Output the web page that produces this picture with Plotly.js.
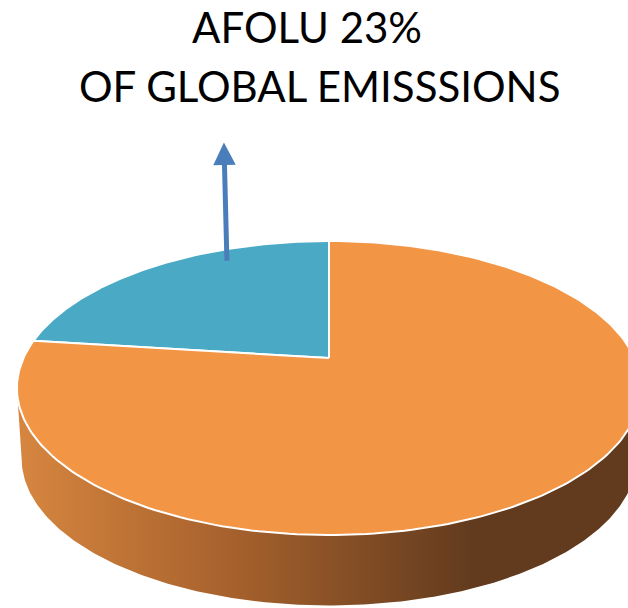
<!DOCTYPE html>
<html>
<head>
<meta charset="utf-8">
<script src="https://cdn.plot.ly/plotly-3.0.1.min.js"></script>
<style>
  html, body { margin: 0; padding: 0; background: #ffffff; }
  #chart { width: 628px; height: 608px; }
</style>
</head>
<body>
<div id="chart"></div>
<script>
// Share of global greenhouse-gas emissions
const categories = ['AFOLU', 'Other sectors'];
const shares = [23, 77];
const sliceColors = ['#4AA9C4', '#F29545'];
const titleLine2 = 'OF GLOBAL EMISSSIONS';

// Tilted-disc projection used for the 3-D look
const PERSPECTIVE = 0.204;   // far rim is drawn smaller than the near rim
const DEPTH = 0.50;          // disc thickness in y units
const BOTTOM_SHRINK = 0.985; // lower rim slightly narrower
const STEPS = 240;

function project(theta, lower) {
  const d = Math.sin(theta);
  const s = 1 / (1 + PERSPECTIVE * d);
  return [
    Math.cos(theta) * s * (lower ? BOTTOM_SHRINK : 1),
    d * s - (lower ? DEPTH : 0)
  ];
}

function arc(a0, a1, lower) {
  const xs = [], ys = [];
  for (let i = 0; i <= STEPS; i++) {
    const t = a0 + (a1 - a0) * i / STEPS;
    const p = project(t, lower);
    xs.push(p[0]); ys.push(p[1]);
  }
  return [xs, ys];
}

const total = shares.reduce((a, b) => a + b, 0);
const traces = [];

// Front wall of the disc (visible between the two silhouette points)
const edgeAngle = Math.asin(PERSPECTIVE);
const upperRim = arc(Math.PI + edgeAngle, 2 * Math.PI - edgeAngle, false);
const lowerRim = arc(2 * Math.PI - edgeAngle, Math.PI + edgeAngle, true);
traces.push({
  type: 'scatter', mode: 'lines',
  x: upperRim[0].concat(lowerRim[0]), y: upperRim[1].concat(lowerRim[1]),
  fill: 'toself',
  line: { width: 0, color: 'rgba(0,0,0,0)' },
  fillgradient: {
    type: 'horizontal',
    start: -1.0, stop: 0.47,
    colorscale: [[0, '#D5853F'], [0.45, '#A8622D'], [1, '#623B1E']]
  },
  hoverinfo: 'skip'
});

// Top face: slices start at 12 o'clock, first slice runs counter-clockwise
let startAngle = Math.PI / 2;
shares.forEach((v, i) => {
  const sweep = 2 * Math.PI * v / total;
  const endAngle = startAngle + sweep;
  const rim = arc(startAngle, endAngle, false);
  traces.push({
    type: 'scatter', mode: 'lines',
    x: [0].concat(rim[0], [0]), y: [0].concat(rim[1], [0]),
    fill: 'toself', fillcolor: sliceColors[i],
    line: { color: '#ffffff', width: 2 },
    name: categories[i],
    hoverinfo: 'name'
  });
  startAngle = endAngle;
});

const layout = {
  width: 628, height: 608,
  margin: { l: 0, r: 0, t: 0, b: 0 },
  paper_bgcolor: '#ffffff', plot_bgcolor: '#ffffff',
  showlegend: false,
  xaxis: { range: [-1.0769, 0.9787], visible: false, fixedrange: true },
  yaxis: { range: [-1.774, 2.541], visible: false, fixedrange: true },
  annotations: [
    {
      xref: 'paper', yref: 'paper', x: 307 / 628, y: 1 - 27 / 608,
      xanchor: 'center', yanchor: 'middle', showarrow: false,
      text: categories[0] + ' ' + shares[0] + '%',
      font: { family: 'Lato, sans-serif', size: 42, color: '#000000' }
    },
    {
      xref: 'paper', yref: 'paper', x: 319 / 628, y: 1 - 86 / 608,
      xanchor: 'center', yanchor: 'middle', showarrow: false,
      text: titleLine2,
      font: { family: 'Lato, sans-serif', size: 42, color: '#000000' }
    },
    {
      xref: 'x', yref: 'y', axref: 'x', ayref: 'y',
      x: -0.344, y: 1.53, ax: -0.334, ay: 0.68,
      showarrow: true, text: '',
      arrowhead: 2, arrowsize: 0.9, arrowwidth: 5, arrowcolor: '#4A7EBB'
    }
  ]
};

Plotly.newPlot('chart', traces, layout, { displayModeBar: false, staticPlot: true });
</script>
</body>
</html>
